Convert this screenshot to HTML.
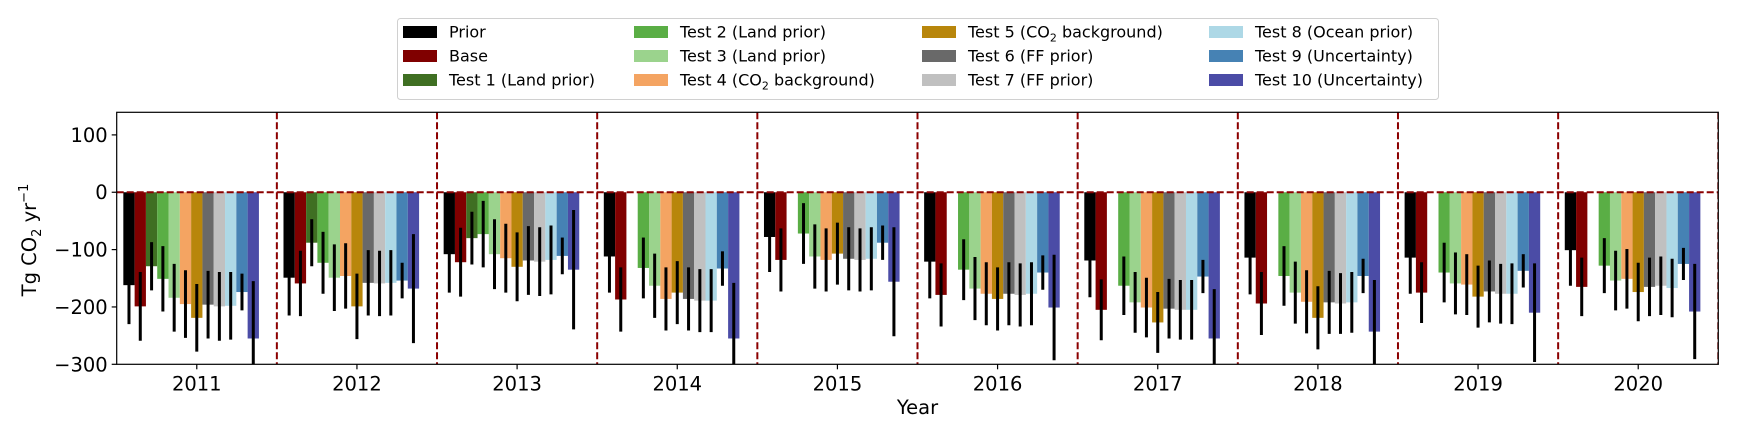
<!DOCTYPE html>
<html><head><meta charset="utf-8"><style>
html,body{margin:0;padding:0;background:#fff;}
svg{display:block;font-family:"DejaVu Sans","Liberation Sans",sans-serif;}
</style></head><body>
<svg id="chart" width="1737" height="432" viewBox="0 0 1737 432" xmlns="http://www.w3.org/2000/svg">
<defs><clipPath id="plotclip"><rect x="116.7" y="112.3" width="1601.6" height="252"/></clipPath></defs>
<g id="bars" clip-path="url(#plotclip)"></g>
<g id="axes"></g>
<g id="legend"></g>
</svg>
<script>
const years = ["2011","2012","2013","2014","2015","2016","2017","2018","2019","2020"];
const seriesNames = ["Prior","Base","Test 1 (Land prior)","Test 2 (Land prior)","Test 3 (Land prior)","Test 4 (CO2 background)","Test 5 (CO2 background)","Test 6 (FF prior)","Test 7 (FF prior)","Test 8 (Ocean prior)","Test 9 (Uncertainty)","Test 10 (Uncertainty)"];
const seriesColors = ["#000000","#800000","#3f6f22","#5aae45","#9bd38d","#f4a462","#b8860b","#696969","#c0c0c0","#add8e6","#4682b4","#4b4ca6"];
const prior = [-162,-149,-108,-112,-78,-121,-119,-114,-114,-101];
const base = [-199,-159,-122,-187,-118,-179,-205,-194,-175,-165];
const test1 = [-129,-88,-80,0,0,0,0,0,0,0];
const test2 = [-151,-123,-73,-132,-72,-135,-163,-146,-140,-128];
const test3 = [-184,-149,-108,-163,-112,-168,-192,-175,-159,-154];
const test4 = [-195,-146,-115,-186,-118,-177,-201,-191,-161,-151];
const test5 = [-219,-199,-130,-175,-107,-186,-227,-219,-182,-174];
const test6 = [-196,-158,-119,-186,-116,-177,-203,-192,-173,-165];
const test7 = [-199,-159,-121,-189,-118,-179,-205,-194,-177,-163];
const test8 = [-198,-158,-118,-189,-116,-177,-205,-192,-177,-167];
const test9 = [-174,-154,-111,-133,-88,-140,-147,-146,-137,-125];
const test10 = [-255,-168,-135,-255,-156,-201,-255,-243,-210,-208];
const errPrior = [68,66,67,63,61,64,64,64,63,62];
const errBase = [60,57,60,56,55,55,53,55,53,51];
const errTest1 = [42,41,46,0,0,0,0,0,0,0];
const errTest2 = [57,54,58,53,53,53,51,52,52,48];
const errTest3 = [59,58,61,56,56,55,53,54,54,52];
const errTest4 = [59,57,60,55,55,55,52,55,53,52];
const errTest5 = [59,57,60,55,54,55,53,55,54,51];
const errTest6 = [59,57,60,55,55,55,52,55,54,51];
const errTest7 = [60,57,60,55,55,55,52,53,52,51];
const errTest8 = [59,57,60,55,55,55,52,53,53,51];
const errTest9 = [32,31,32,30,30,30,29,30,29,28];
const errTest10 = [100,95,104,97,95,92,86,90,86,83];
const yTicks = [100,0,-100,-200,-300];

const values = [prior,base,test1,test2,test3,test4,test5,test6,test7,test8,test9,test10];
const errors = [errPrior,errBase,errTest1,errTest2,errTest3,errTest4,errTest5,errTest6,errTest7,errTest8,errTest9,errTest10];

const NS = "http://www.w3.org/2000/svg";
const L = 116.7, R = 1718.3, T = 112.3, B = 364.3;
const yMin = -300, yMax = 139.4;
const groupW = (R - L) / years.length;
const barW = 11.3;
function yScale(v){ return B - (v - yMin) / (yMax - yMin) * (B - T); }
function xCenter(i){ return L + groupW * (i + 0.5); }
function mk(tag, attrs, parent){ const e = document.createElementNS(NS, tag); for (const k in attrs) e.setAttribute(k, attrs[k]); parent.appendChild(e); return e; }

const bars = document.getElementById("bars");
const axes = document.getElementById("axes");
const legend = document.getElementById("legend");

for (let s = 0; s < values.length; s++) {
  for (let i = 0; i < years.length; i++) {
    const v = values[s][i];
    if (v === 0) continue;
    const x = xCenter(i) + (s - 6.5) * barW;
    const y0 = yScale(0), y1 = yScale(v);
    const r = mk("rect", {x: x, y: Math.min(y0, y1), width: barW, height: Math.abs(y1 - y0), fill: seriesColors[s]}, bars);
    
    
  }
}
for (let s = 0; s < values.length; s++) {
  for (let i = 0; i < years.length; i++) {
    const v = values[s][i], e = errors[s][i];
    if (v === 0 || e === 0) continue;
    const cx = xCenter(i) + (s - 6) * barW;
    const l = mk("line", {x1: cx, x2: cx, y1: yScale(v + e), y2: yScale(v - e), stroke: "#000", "stroke-width": 3}, bars);
    
    
  }
}
const zl = mk("line", {x1: L, x2: R, y1: yScale(0), y2: yScale(0), stroke: "#8b0000", "stroke-width": 2, "stroke-dasharray": "7,3"}, bars);


for (let i = 1; i <= years.length; i++) {
  const x = L + groupW * i;
  const d = mk("line", {x1: x, x2: x, y1: T, y2: B, stroke: "#8b0000", "stroke-width": 2, "stroke-dasharray": "7,3"}, bars);
  
  
}
const fr = mk("rect", {x: L, y: T, width: R - L, height: B - T, fill: "none", stroke: "#000", "stroke-width": 1.2}, axes);


for (const t of yTicks) {
  const y = yScale(t);
  mk("line", {x1: L - 5, x2: L, y1: y, y2: y, stroke: "#000", "stroke-width": 1.2}, axes);
  const tx = mk("text", {x: L - 9, y: y + 7, "text-anchor": "end", "font-size": 19.5, fill: "#000"}, axes);
  tx.textContent = t < 0 ? "\u2212" + Math.abs(t) : String(t);
  
  
}
for (let i = 0; i < years.length; i++) {
  const x = xCenter(i);
  mk("line", {x1: x, x2: x, y1: B, y2: B + 5, stroke: "#000", "stroke-width": 1.2}, axes);
  const tx = mk("text", {x: x, y: B + 26, "text-anchor": "middle", "font-size": 19.5, fill: "#000"}, axes);
  tx.textContent = years[i];
  
  
}
const xt = mk("text", {x: (L + R) / 2, y: 414, "text-anchor": "middle", "font-size": 19.5, fill: "#000"}, axes);
xt.textContent = "Year";


const yt = mk("text", {x: 0, y: 0, "text-anchor": "middle", "font-size": 19.5, fill: "#000", transform: "translate(36,240) rotate(-90)"}, axes);
yt.innerHTML = 'Tg CO<tspan font-size="13" dy="5">2</tspan><tspan dy="-5"> yr</tspan><tspan font-size="13" dy="-8">\u22121</tspan>';



const lb = mk("rect", {x: 397.5, y: 18.5, width: 1041, height: 81, rx: 3, fill: "#fff", stroke: "#d0d0d0", "stroke-width": 1}, legend);


const colX = [403, 634, 922, 1209];
const rowY = [32, 56, 80];
for (let s = 0; s < seriesNames.length; s++) {
  const c = Math.floor(s / 3), r = s % 3;
  const g = mk("g", {}, legend);
  
  
  mk("rect", {x: colX[c], y: rowY[r] - 6, width: 34, height: 12, fill: seriesColors[s]}, g);
  const tx = mk("text", {x: colX[c] + 46, y: rowY[r] + 5.5, "font-size": 16, fill: "#000"}, g);
  const nm = seriesNames[s];
  if (nm.indexOf("CO2") >= 0) {
    const parts = nm.split("CO2");
    tx.innerHTML = parts[0] + 'CO<tspan font-size="11" dy="4">2</tspan><tspan dy="-4">' + parts[1] + '</tspan>';
  } else tx.textContent = nm;
}
</script>
</body></html>
